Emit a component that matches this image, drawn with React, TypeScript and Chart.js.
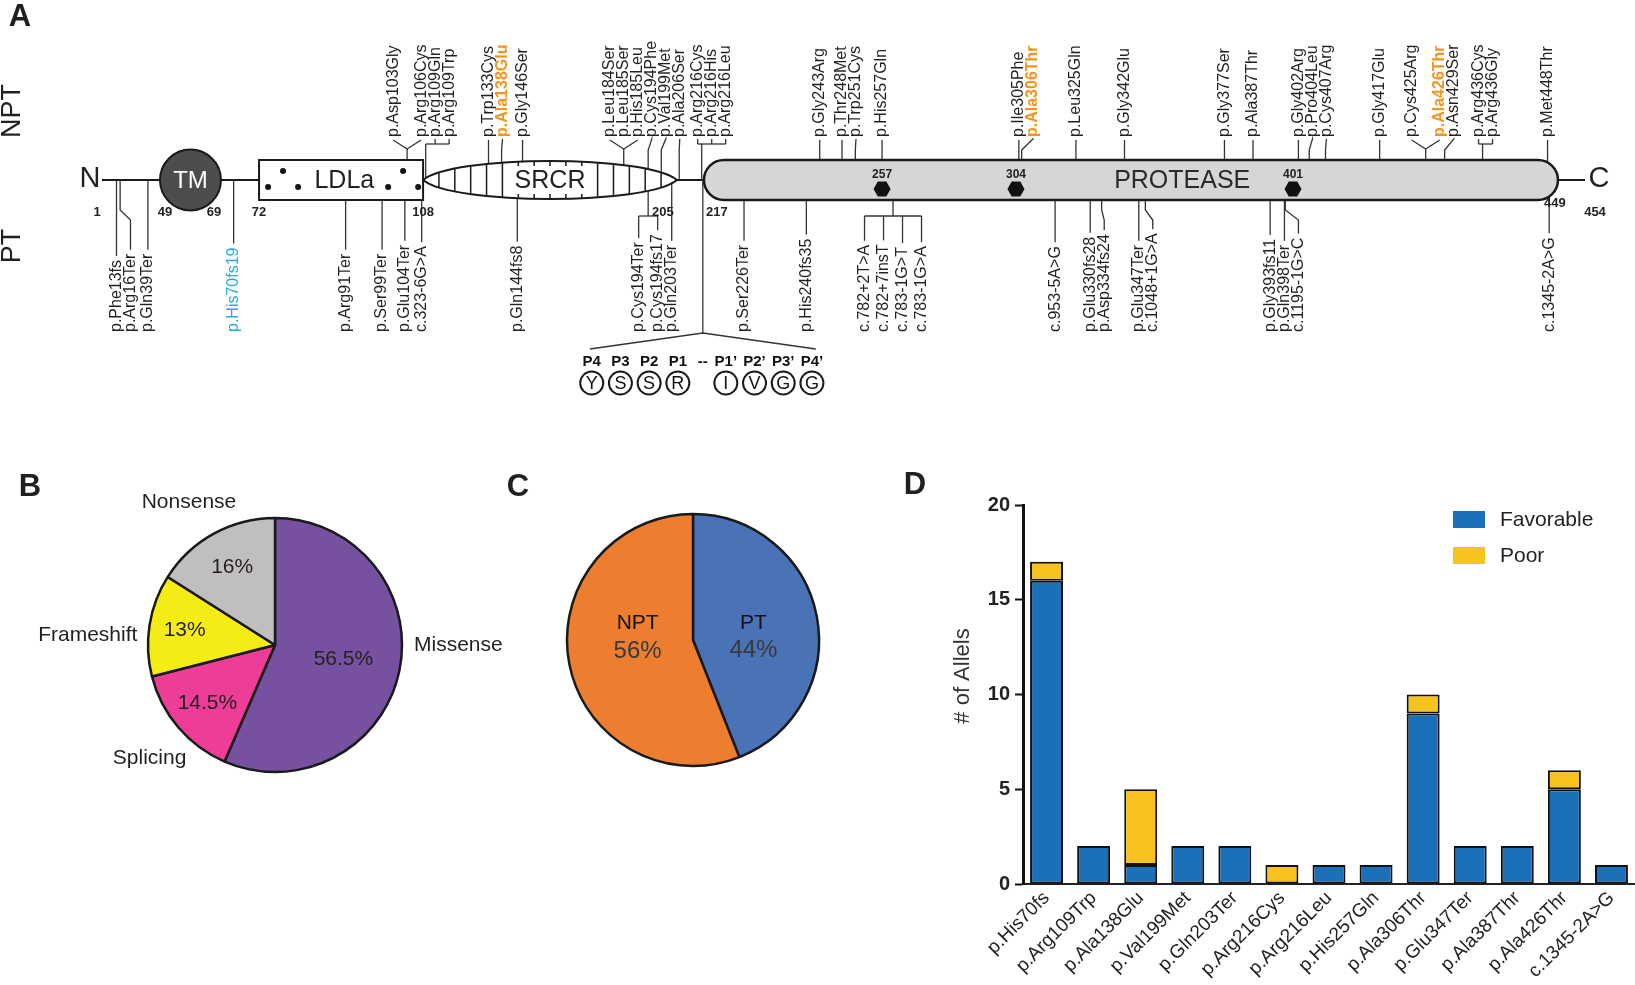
import React, { useEffect, useRef } from 'react';
import { Chart, LinearScale, registerables } from 'chart.js';

Chart.register(...registerables);

const FONT = '"Liberation Sans", Arial, Helvetica, sans-serif';
const INK = '#231f20';
Chart.defaults.font.family = FONT;

/* ================= Panel A : protein schematic ================= */
const landmarkResidues = [1, 49, 69, 72, 108, 205, 217, 449, 454];
const domainNames = ['TM', 'LDLa', 'SRCR', 'PROTEASE'];
const domainStart = [49, 72, 108, 217];
const domainEnd = [69, 108, 205, 449];
const catalyticResidues = [257, 304, 401];
const cleavageSite = 216.5;
const cleavagePositions = ['P4', 'P3', 'P2', 'P1', 'P1\u2019', 'P2\u2019', 'P3\u2019', 'P4\u2019'];
const cleavageAminoAcids = ['Y', 'S', 'S', 'R', 'I', 'V', 'G', 'G'];

const nptVariants = [
  'p.Asp103Gly', 'p.Arg106Cys', 'p.Arg109Gln', 'p.Arg109Trp', 'p.Trp133Cys', 'p.Ala138Glu', 'p.Gly146Ser',
  'p.Leu184Ser', 'p.Leu185Ser', 'p.His185Leu', 'p.Cys194Phe', 'p.Val199Met', 'p.Ala206Ser',
  'p.Arg216Cys', 'p.Arg216His', 'p.Arg216Leu', 'p.Gly243Arg', 'p.Thr248Met', 'p.Trp251Cys', 'p.His257Gln',
  'p.Ile305Phe', 'p.Ala306Thr', 'p.Leu325Gln', 'p.Gly342Glu', 'p.Gly377Ser', 'p.Ala387Thr',
  'p.Gly402Arg', 'p.Pro404Leu', 'p.Cys407Arg', 'p.Gly417Glu', 'p.Cys425Arg', 'p.Ala426Thr', 'p.Asn429Ser',
  'p.Arg436Cys', 'p.Arg436Gly', 'p.Met448Thr',
];
const nptResidues = [103, 106, 109, 109, 133, 138, 146, 184, 185, 185, 194, 199, 206, 216, 216, 216, 243, 248, 251, 257,
  305, 306, 325, 342, 377, 387, 402, 404, 407, 417, 425, 426, 429, 436, 436, 448];
const nptGroups = ['fork1', 'fork1', 'bracket1', 'bracket1', '', '', '', 'fork2', 'fork2', 'fork2', '', '', '',
  'bracket2', 'bracket2', 'bracket2', '', '', '', '', '', '', '', '', '', '', '', '', '', '',
  'fork3', 'fork3', '', 'bracket3', 'bracket3', ''];
const nptHighlighted = ['p.Ala138Glu', 'p.Ala306Thr', 'p.Ala426Thr'];

const ptVariants = [
  'p.Phe13fs', 'p.Arg16Ter', 'p.Gln39Ter', 'p.His70fs19', 'p.Arg91Ter', 'p.Ser99Ter', 'p.Glu104Ter', 'c.323-6G>A',
  'p.Gln144fs8', 'p.Cys194Ter', 'p.Cys194fs17', 'p.Gln203Ter', 'p.Ser226Ter', 'p.His240fs35',
  'c.782+2T>A', 'c.782+7insT', 'c.783-1G>T', 'c.783-1G>A', 'c.953-5A>G', 'p.Glu330fs28', 'p.Asp334fs24',
  'p.Glu347Ter', 'c.1048+1G>A', 'p.Gly393fs11', 'p.Gln398Ter', 'c.1195-1G>C', 'c.1345-2A>G',
];
const ptResidues = [13, 16, 39, 70, 91, 99, 104, 107.7, 144, 194, 194, 203, 226, 240,
  260.7, 260.7, 261, 261, 317.7, 330, 334, 347, 349.3, 393, 398, 398.3, 448.3];
const ptGroups = ['', '', '', '', '', '', '', '', '', 'bracket4', 'bracket4', '', '', '',
  'bracket5', 'bracket5', 'bracket5', 'bracket5', '', '', '', '', '', '', '', '', ''];
const ptHighlighted = ['p.His70fs19'];

/* schematic (non-proportional) residue axis, anchored on the numbered landmarks */
const axisKnotResidues = [1, 49, 69, 72, 108, 205, 217, 257, 304, 401, 449, 454];
const axisKnotFractions = [0, 0.0391, 0.0802, 0.1059, 0.2165, 0.3877, 0.4059, 0.526, 0.6163, 0.8031, 0.9784, 1];

function residueToDecimal(v: number) {
  const k = axisKnotResidues, f = axisKnotFractions;
  if (v <= k[0]) return 0;
  if (v >= k[k.length - 1]) return 1;
  let i = 0;
  while (v > k[i + 1]) i++;
  return f[i] + ((v - k[i]) / (k[i + 1] - k[i])) * (f[i + 1] - f[i]);
}
function decimalToResidue(d: number) {
  const k = axisKnotResidues, f = axisKnotFractions;
  if (d <= 0) return k[0];
  if (d >= 1) return k[k.length - 1];
  let i = 0;
  while (d > f[i + 1]) i++;
  return k[i] + ((d - f[i]) / (f[i + 1] - f[i])) * (k[i + 1] - k[i]);
}

class SchematicScale extends LinearScale {
  static id = 'schematic';
  static defaults = LinearScale.defaults;
  getPixelForValue(value: number) {
    return this.getPixelForDecimal(residueToDecimal(value));
  }
  getValueForPixel(pixel: number) {
    return decimalToResidue(this.getDecimalForPixel(pixel));
  }
}
Chart.register(SchematicScale as any);

type Item = { kind: string; idx: number[]; stem: number; xs: number[] };

function layoutLabels(labels: string[], residues: number[], groups: string[], X: (r: number) => number, side: string) {
  const items: Item[] = [];
  let i = 0;
  while (i < labels.length) {
    const g = groups[i];
    let j = i + 1;
    if (g) while (j < labels.length && groups[j] === g) j++;
    const idx: number[] = [];
    for (let k = i; k < j; k++) idx.push(k);
    const mean = idx.reduce((s, k) => s + residues[k], 0) / idx.length;
    const stem = X(mean);
    const kind = !g ? 'single' : g.startsWith('fork') ? 'fork' : 'bracket';
    const n = idx.length;
    let xs: number[];
    if (kind === 'single') xs = [stem];
    else if (kind === 'fork') xs = idx.map((_, k) => stem - 14 + (k * 28) / (n - 1));
    else if (side === 'top') xs = idx.map((_, k) => stem - 4 + k * 14);
    else xs = idx.map((_, k) => stem + (k - (n - 1) / 2) * 19);
    items.push({ kind, idx, stem, xs });
    i = j;
  }
  let prev = -1e9;
  for (const it of items) {
    for (let k = 0; k < it.xs.length; k++) {
      if (it.xs[k] < prev + 14) it.xs[k] = prev + 14;
      prev = it.xs[k];
    }
  }
  return items;
}

const proteinPlugin = {
  id: 'proteinMap',
  afterDraw(chart: any) {
    const ctx: CanvasRenderingContext2D = chart.ctx;
    const X = (r: number) => chart.scales.x.getPixelForValue(r);
    const cy = chart.scales.y.getPixelForValue(0);
    const npt = chart.data.datasets[0].data.map((p: any) => p.x);
    const pt = chart.data.datasets[1].data.map((p: any) => p.x);
    const f = (s: number, w = 'normal') => `${w} ${s}px ${FONT}`;
    const seg = (pts: number[][]) => {
      ctx.beginPath();
      ctx.moveTo(pts[0][0], pts[0][1]);
      for (let i = 1; i < pts.length; i++) ctx.lineTo(pts[i][0], pts[i][1]);
      ctx.stroke();
    };
    const text = (t: string, x: number, y: number, font: string, color = INK, align: CanvasTextAlign = 'center', rot = 0) => {
      ctx.save();
      ctx.translate(x, y);
      if (rot) ctx.rotate(rot);
      ctx.font = font;
      ctx.fillStyle = color;
      ctx.textAlign = align;
      ctx.textBaseline = 'middle';
      ctx.fillText(t, 0, 0);
      ctx.restore();
    };
    ctx.save();

    // backbone
    ctx.strokeStyle = '#1a1a1a';
    ctx.lineWidth = 2;
    seg([[X(1), cy], [X(454), cy]]);

    const top = layoutLabels(nptVariants, npt, nptGroups, X, 'top');
    const bot = layoutLabels(ptVariants, pt, ptGroups, X, 'bottom');

    // connector lines
    ctx.strokeStyle = '#333';
    ctx.lineWidth = 1.3;
    const topEnd = cy - 40;
    for (const it of top) {
      const xs = it.xs;
      if (it.kind === 'single') {
        if (Math.abs(xs[0] - it.stem) < 0.5) seg([[it.stem, cy], [it.stem, topEnd]]);
        else seg([[it.stem, cy], [it.stem, cy - 30], [xs[0], topEnd - 1], [xs[0], topEnd]]);
      } else if (it.kind === 'fork') {
        seg([[xs[0], topEnd], [it.stem, cy - 31], [xs[xs.length - 1], topEnd]]);
        seg([[it.stem, cy], [it.stem, cy - 31]]);
      } else {
        const by = cy - 36;
        seg([[it.stem, cy], [it.stem, by]]);
        seg([[Math.min(it.stem, xs[0]), by], [Math.max(it.stem, xs[xs.length - 1]), by]]);
        xs.forEach((x) => seg([[x, by], [x, by - 5]]));
      }
    }
    const botStart = cy + 152;
    ctx.font = f(16);
    const labelTop = (k: number) => botStart - ctx.measureText(ptVariants[k]).width - 4;
    for (const it of bot) {
      const xs = it.xs;
      if (it.kind === 'single') {
        const yT = labelTop(it.idx[0]);
        if (Math.abs(xs[0] - it.stem) < 0.5) seg([[it.stem, cy], [it.stem, yT]]);
        else seg([[it.stem, cy], [it.stem, cy + 30], [xs[0], cy + 40], [xs[0], yT]]);
      } else {
        const by = cy + 36;
        seg([[it.stem, cy], [it.stem, by]]);
        seg([[Math.min(it.stem, xs[0]), by], [Math.max(it.stem, xs[xs.length - 1]), by]]);
        xs.forEach((x, k) => seg([[x, by], [x, labelTop(it.idx[k])]]));
      }
    }
    // cleavage site wedge
    const xc = X(cleavageSite);
    const apex = cy + 153;
    seg([[xc, cy], [xc, apex]]);
    seg([[xc - 113, apex + 16], [xc, apex], [xc + 113, apex + 16]]);

    // ---- domains ----
    // TM
    {
      const l = X(domainStart[0]), r = X(domainEnd[0]);
      const cx = (l + r) / 2, rad = (r - l) / 2;
      ctx.beginPath();
      ctx.arc(cx, cy, rad, 0, Math.PI * 2);
      ctx.fillStyle = '#4d4d4d';
      ctx.fill();
      ctx.lineWidth = 2;
      ctx.strokeStyle = '#1a1a1a';
      ctx.stroke();
      text(domainNames[0], cx, cy + 1, f(24), '#ffffff');
    }
    // LDLa
    {
      const l = X(domainStart[1]), r = X(domainEnd[1]);
      const w = r - l;
      ctx.fillStyle = '#ffffff';
      ctx.fillRect(l, cy - 20, w, 40);
      ctx.lineWidth = 2;
      ctx.strokeStyle = '#1a1a1a';
      ctx.strokeRect(l, cy - 20, w, 40);
      const dots = [[0.055, 7], [0.146, -9], [0.238, 7], [0.787, 7], [0.878, -9], [0.97, 7]];
      ctx.fillStyle = '#111';
      dots.forEach(([fx, dy]) => {
        ctx.beginPath();
        ctx.arc(l + fx * w, cy + dy, 3, 0, Math.PI * 2);
        ctx.fill();
      });
      text(domainNames[1], l + w * 0.52, cy + 1, f(25), '#222');
    }
    // SRCR
    {
      const l = X(domainStart[2]), r = X(domainEnd[2]);
      const w = r - l, h = 19 / 0.75;
      const path = new Path2D();
      path.moveTo(l, cy);
      path.bezierCurveTo(l + w * 0.12, cy - h, r - w * 0.12, cy - h, r, cy);
      path.bezierCurveTo(r - w * 0.12, cy + h, l + w * 0.12, cy + h, l, cy);
      path.closePath();
      ctx.fillStyle = '#ffffff';
      ctx.fill(path);
      ctx.save();
      ctx.clip(path);
      ctx.strokeStyle = '#1a1a1a';
      ctx.lineWidth = 1.5;
      for (let k = 1; k < 16; k++) {
        const x = l + (k * w) / 16;
        seg([[x, cy - 22], [x, cy + 22]]);
      }
      ctx.font = f(25);
      const tw = ctx.measureText(domainNames[2]).width;
      ctx.fillStyle = '#ffffff';
      ctx.fillRect(l + w / 2 - tw / 2 - 3, cy - 14, tw + 6, 28);
      ctx.restore();
      ctx.lineWidth = 2;
      ctx.strokeStyle = '#1a1a1a';
      ctx.stroke(path);
      text(domainNames[2], l + w / 2, cy + 1, f(25), '#222');
    }
    // Protease
    {
      const l = X(domainStart[3]), r = X(domainEnd[3]) + 5;
      const t = cy - 20, b = cy + 20, rad = 20;
      ctx.beginPath();
      ctx.moveTo(l + rad, t);
      ctx.lineTo(r - rad, t);
      ctx.arc(r - rad, cy, rad, -Math.PI / 2, Math.PI / 2);
      ctx.lineTo(l + rad, b);
      ctx.arc(l + rad, cy, rad, Math.PI / 2, Math.PI * 1.5);
      ctx.closePath();
      ctx.fillStyle = '#d6d6d6';
      ctx.fill();
      ctx.lineWidth = 2.5;
      ctx.strokeStyle = '#1a1a1a';
      ctx.stroke();
      text(domainNames[3], l + (r - l) * 0.56, cy + 1, f(25), '#2a2a2a');
      catalyticResidues.forEach((res) => {
        const x = X(res), y = cy + 9;
        ctx.beginPath();
        ctx.moveTo(x - 8.5, y);
        ctx.lineTo(x - 4.3, y - 7.5);
        ctx.lineTo(x + 4.3, y - 7.5);
        ctx.lineTo(x + 8.5, y);
        ctx.lineTo(x + 4.3, y + 7.5);
        ctx.lineTo(x - 4.3, y + 7.5);
        ctx.closePath();
        ctx.fillStyle = '#111';
        ctx.fill();
        text(String(res), x, cy - 5, f(12, 'bold'), '#222');
      });
    }

    // landmark numbers
    const lmDx = [-5, 5, -7, 0, 0, -14, 13, 2, 10];
    landmarkResidues.forEach((res, i) => {
      text(String(res), X(res) + lmDx[i], res === 449 ? cy + 23 : cy + 32, f(13, 'bold'), '#222');
    });
    text('N', X(1) - 12, cy - 1, f(29), INK);
    text('C', X(454) + 14, cy - 1, f(29), INK);

    // variant labels
    for (const it of top) {
      it.idx.forEach((k, j) => {
        const hi = nptHighlighted.includes(nptVariants[k]);
        text(nptVariants[k], it.xs[j], cy - 43, f(16, hi ? 'bold' : 'normal'), hi ? '#f7941d' : INK, 'left', -Math.PI / 2);
      });
    }
    for (const it of bot) {
      it.idx.forEach((k, j) => {
        const hi = ptHighlighted.includes(ptVariants[k]);
        text(ptVariants[k], it.xs[j], botStart, f(16), hi ? '#27a9e1' : INK, 'left', -Math.PI / 2);
      });
    }

    // cleavage site residues
    cleavagePositions.forEach((p, i) => {
      const x = i < 4 ? xc - 25 - (3 - i) * 28.7 : xc + 23 + (i - 4) * 28.7;
      text(p, x, apex + 29, f(15, 'bold'), '#111');
      ctx.beginPath();
      ctx.arc(x, apex + 50, 11.5, 0, Math.PI * 2);
      ctx.lineWidth = 2;
      ctx.strokeStyle = '#1a1a1a';
      ctx.stroke();
      text(cleavageAminoAcids[i], x, apex + 51, f(18), '#111');
    });
    text('--', xc, apex + 29, f(15, 'bold'), '#111');

    // panel texts
    text('A', 20, 17, f(31, 'bold'), INK);
    text('NPT', 13, 111, f(27), INK, 'center', -Math.PI / 2);
    text('PT', 13, 246, f(27), INK, 'center', -Math.PI / 2);
    ctx.restore();
  },
};

/* ================= Panel B / C : pies ================= */
const mutationTypes = ['Missense', 'Splicing', 'Frameshift', 'Nonsense'];
const mutationShares = [56.5, 14.5, 13, 16];
const phenotypeGroups = ['PT', 'NPT'];
const phenotypeShares = [44, 56];

function pieTextPlugin(cfg: any) {
  return {
    id: 'pieText',
    afterDatasetsDraw(chart: any) {
      const ctx: CanvasRenderingContext2D = chart.ctx;
      const meta = chart.getDatasetMeta(0);
      const values = chart.data.datasets[0].data;
      const labels = chart.data.labels;
      ctx.save();
      ctx.textBaseline = 'middle';
      const at = (cx: number, cy: number, deg: number, d: number) => {
        const a = ((deg - 90) * Math.PI) / 180;
        return [cx + d * Math.cos(a), cy + d * Math.sin(a)];
      };
      meta.data.forEach((arc: any, i: number) => {
        const { x, y, startAngle, endAngle, outerRadius } = arc;
        const midDeg = (((startAngle + endAngle) / 2) * 180) / Math.PI + 90;
        const inner = cfg.inner[i];
        const [ix, iy] = at(x, y, inner.angle ?? midDeg, inner.r * outerRadius);
        ctx.textAlign = 'center';
        if (cfg.twoLine) {
          ctx.font = `normal 21px ${FONT}`;
          ctx.fillStyle = '#111';
          ctx.fillText(labels[i], ix, iy - 14);
          ctx.font = `normal 24px ${FONT}`;
          ctx.fillStyle = '#3a3a3a';
          ctx.fillText(`${values[i]}%`, ix, iy + 14);
        } else {
          ctx.font = `normal 21px ${FONT}`;
          ctx.fillStyle = INK;
          ctx.fillText(`${values[i]}%`, ix, iy);
        }
        if (cfg.outer) {
          const o = cfg.outer[i];
          const [ox, oy] = at(x, y, o.angle, outerRadius + o.pad);
          ctx.textAlign = o.align;
          ctx.font = `normal 21px ${FONT}`;
          ctx.fillStyle = INK;
          ctx.fillText(labels[i], ox, oy);
        }
      });
      ctx.textAlign = 'center';
      ctx.font = `bold 31px ${FONT}`;
      ctx.fillStyle = INK;
      ctx.fillText(cfg.letter, cfg.letterX, cfg.letterY);
      ctx.restore();
    },
  };
}

/* ================= Panel D : stacked bars ================= */
const alleleVariants = ['p.His70fs', 'p.Arg109Trp', 'p.Ala138Glu', 'p.Val199Met', 'p.Gln203Ter', 'p.Arg216Cys',
  'p.Arg216Leu', 'p.His257Gln', 'p.Ala306Thr', 'p.Glu347Ter', 'p.Ala387Thr', 'p.Ala426Thr', 'c.1345-2A>G'];
const favorableAlleles = [16, 2, 1, 2, 2, 0, 1, 1, 9, 2, 2, 5, 1];
const poorAlleles = [1, 0, 4, 0, 0, 1, 0, 0, 1, 0, 0, 1, 0];
const outcomeLabels = ['Favorable', 'Poor'];
const alleleAxisMax = 20;
const alleleAxisStep = 5;

const barDecorPlugin = {
  id: 'barDecor',
  afterDraw(chart: any) {
    const ctx: CanvasRenderingContext2D = chart.ctx;
    ctx.save();
    ctx.textBaseline = 'middle';
    ctx.textAlign = 'center';
    ctx.font = `bold 31px ${FONT}`;
    ctx.fillStyle = INK;
    ctx.fillText('D', 15, 45);
    ctx.save();
    ctx.translate(63, 236);
    ctx.rotate(-Math.PI / 2);
    ctx.font = `normal 22px ${FONT}`;
    ctx.fillStyle = '#333';
    ctx.fillText('# of Allels', 0, 0);
    ctx.restore();
    chart.data.datasets.forEach((ds: any, i: number) => {
      const y = 71 + i * 36;
      ctx.fillStyle = ds.backgroundColor;
      ctx.fillRect(553, y, 32, 17);
      ctx.textAlign = 'left';
      ctx.font = `normal 21px ${FONT}`;
      ctx.fillStyle = '#222';
      ctx.fillText(ds.label, 600, y + 9);
    });
    ctx.restore();
  },
};

export default function App() {
  const aRef = useRef<HTMLCanvasElement>(null);
  const bRef = useRef<HTMLCanvasElement>(null);
  const cRef = useRef<HTMLCanvasElement>(null);
  const dRef = useRef<HTMLCanvasElement>(null);

  useEffect(() => {
    const charts: Chart[] = [];
    charts.push(new Chart(aRef.current as HTMLCanvasElement, {
      type: 'scatter',
      data: {
        datasets: [
          { label: 'NPT', data: nptResidues.map((r) => ({ x: r, y: 1 })), pointRadius: 0 },
          { label: 'PT', data: ptResidues.map((r) => ({ x: r, y: -1 })), pointRadius: 0 },
        ],
      },
      options: {
        responsive: false,
        animation: false,
        events: [],
        layout: { padding: { left: 102, right: 50, top: 0, bottom: 60 } },
        scales: {
          x: { type: 'schematic' as any, min: 1, max: 454, display: false },
          y: { type: 'linear', min: -1, max: 1, display: false },
        },
        plugins: { legend: { display: false }, tooltip: { enabled: false } },
      },
      plugins: [proteinPlugin],
    } as any));

    charts.push(new Chart(bRef.current as HTMLCanvasElement, {
      type: 'pie',
      data: {
        labels: mutationTypes,
        datasets: [{
          data: mutationShares,
          backgroundColor: ['#76519f', '#ee3d96', '#f6ec15', '#c0bebe'],
          borderColor: '#1a1a1a',
          borderWidth: 2.5,
          radius: 127,
        }],
      },
      options: {
        responsive: false,
        animation: false,
        events: [],
        layout: { padding: { left: 145, right: 115, top: 75, bottom: 210 } },
        plugins: { legend: { display: false }, tooltip: { enabled: false } },
      },
      plugins: [pieTextPlugin({
        inner: [{ r: 0.55 }, { r: 0.7 }, { r: 0.72 }, { r: 0.7 }],
        outer: [
          { angle: 90, pad: 12, align: 'left' },
          { angle: 218, pad: 17, align: 'right' },
          { angle: 274, pad: 11, align: 'right' },
          { angle: 329, pad: 40, align: 'center' },
        ],
        letter: 'B', letterX: 30, letterY: 47,
      })],
    } as any));

    charts.push(new Chart(cRef.current as HTMLCanvasElement, {
      type: 'pie',
      data: {
        labels: phenotypeGroups,
        datasets: [{
          data: phenotypeShares,
          backgroundColor: ['#4a72b6', '#ed7e2f'],
          borderColor: '#1a1a1a',
          borderWidth: 2.5,
          radius: 126,
        }],
      },
      options: {
        responsive: false,
        animation: false,
        events: [],
        layout: { padding: { left: 63, right: 77, top: 70, bottom: 215 } },
        plugins: { legend: { display: false }, tooltip: { enabled: false } },
      },
      plugins: [pieTextPlugin({
        twoLine: true,
        inner: [{ angle: 87, r: 0.48 }, { angle: 273, r: 0.44 }],
        letter: 'C', letterX: 18, letterY: 47,
      })],
    } as any));

    charts.push(new Chart(dRef.current as HTMLCanvasElement, {
      type: 'bar',
      data: {
        labels: alleleVariants,
        datasets: [
          {
            label: outcomeLabels[0],
            data: favorableAlleles.map((v) => (v ? v : null)),
            backgroundColor: '#1c70b8',
            borderColor: '#111',
            borderWidth: 2,
            borderSkipped: false,
            barPercentage: 0.7,
            categoryPercentage: 1,
          },
          {
            label: outcomeLabels[1],
            data: poorAlleles.map((v) => (v ? v : null)),
            backgroundColor: '#f8c21c',
            borderColor: '#111',
            borderWidth: 2,
            borderSkipped: false,
            barPercentage: 0.7,
            categoryPercentage: 1,
          },
        ],
      },
      options: {
        responsive: false,
        animation: false,
        events: [],
        layout: { padding: { left: 0, right: 0, top: 65, bottom: 0 } },
        plugins: { legend: { display: false }, tooltip: { enabled: false } },
        scales: {
          x: {
            stacked: true,
            grid: { display: false, drawTicks: false },
            border: { display: true, color: '#222', width: 2 },
            ticks: {
              autoSkip: false, maxRotation: 45, minRotation: 45, padding: 3,
              color: '#222', font: { family: FONT, size: 19 },
            },
            afterFit: (s: any) => { s.height = 101; },
          },
          y: {
            stacked: true,
            min: 0,
            max: alleleAxisMax,
            ticks: { stepSize: alleleAxisStep, padding: 5, color: '#222', font: { family: FONT, size: 20, weight: 'bold' } },
            grid: { display: true, drawOnChartArea: false, drawTicks: true, tickLength: 8, tickColor: '#111', tickWidth: 2 },
            border: { display: true, color: '#111', width: 3 },
            afterFit: (s: any) => { s.width = 123; },
          },
        },
      },
      plugins: [barDecorPlugin],
    } as any));

    return () => charts.forEach((c) => c.destroy());
  }, []);

  const abs = (left: number, top: number, w: number, h: number): React.CSSProperties => ({
    position: 'absolute', left, top, width: w, height: h,
  });

  return (
    <div style={{ position: 'absolute', left: 0, top: 0, width: 1635, height: 985, background: '#ffffff', overflow: 'hidden' }}>
      <canvas ref={aRef} width={1635} height={420} style={abs(0, 0, 1635, 420)} />
      <canvas ref={bRef} width={520} height={545} style={abs(0, 440, 520, 545)} />
      <canvas ref={cRef} width={400} height={545} style={abs(500, 440, 400, 545)} />
      <canvas ref={dRef} width={735} height={545} style={abs(900, 440, 735, 545)} />
    </div>
  );
}
